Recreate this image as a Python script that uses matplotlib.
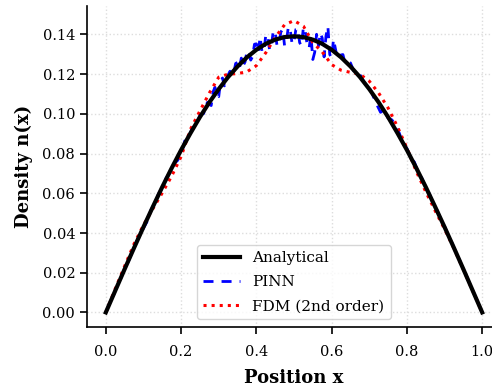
import matplotlib
matplotlib.use('Agg')
from matplotlib import pyplot as plt
import numpy as np

plt.rcParams['font.family'] = 'DejaVu Serif'

x_coarse = np.linspace(0, 1, 41)
analytical = [0.0, 0.0109, 0.0218, 0.0325, 0.0430, 0.0532, 0.0632, 0.0727, 0.0818, 0.0903,
              0.0984, 0.1058, 0.1125, 0.1186, 0.1239, 0.1285, 0.1323, 0.1353, 0.1374, 0.1387,
              0.1391,
              0.1387, 0.1374, 0.1353, 0.1323, 0.1285, 0.1239, 0.1186, 0.1125, 0.1058, 0.0984,
              0.0903, 0.0818, 0.0727, 0.0632, 0.0532, 0.0430, 0.0325, 0.0218, 0.0109, 0.0]

# FDM (2nd order), same grid
fdm = [0.0, 0.0119, 0.0233, 0.0345, 0.0440, 0.0522, 0.0602, 0.0687, 0.0785, 0.0923,
       0.1015, 0.1105, 0.1185, 0.1200, 0.1203, 0.1212, 0.1243, 0.1308, 0.1385, 0.1449,
       0.1470,
       0.1442, 0.1359, 0.1312, 0.1248, 0.1220, 0.1209, 0.1200, 0.1165, 0.1105, 0.1030,
       0.0935, 0.0828, 0.0710, 0.0608, 0.0512, 0.0420, 0.0322, 0.0216, 0.0108, 0.0]

# PINN prediction: steps of 0.01 near the ends, 0.005 in the noisy middle part
x_pinn = np.concatenate([np.linspace(0, 0.25, 26),
                         np.linspace(0.26, 0.64, 77),
                         np.linspace(0.65, 1.0, 36)])
pinn = [0.0, 0.0046, 0.0084, 0.0135, 0.0172, 0.0221, 0.0257, 0.0305, 0.0351, 0.0385,
        0.0424, 0.0459, 0.0516, 0.0549, 0.0597, 0.0628, 0.0676, 0.0703, 0.0748, 0.0764,
        0.0794, 0.0865, 0.0881, 0.0930, 0.0944, 0.0993,
        # 0.26 .. 0.64
        0.1002, 0.1037, 0.1058, 0.1048, 0.1042, 0.1111, 0.1134, 0.1092, 0.1087, 0.1166,
        0.1181, 0.1141, 0.1160, 0.1196, 0.1215, 0.1190, 0.1207, 0.1254, 0.1259, 0.1229,
        0.1281, 0.1243, 0.1262, 0.1315, 0.1318, 0.1271, 0.1289, 0.1351, 0.1353, 0.1309,
        0.1388, 0.1312, 0.1312, 0.1397, 0.1398, 0.1322, 0.1341, 0.1420, 0.1412, 0.1342,
        0.1350, 0.1412, 0.1427, 0.1342, 0.1368, 0.1439, 0.1425, 0.1351, 0.1363, 0.1426,
        0.1430, 0.1359, 0.1343, 0.1437, 0.1415, 0.1347, 0.1330, 0.1397, 0.1274, 0.1310,
        0.1401, 0.1342, 0.1408, 0.1382, 0.1287, 0.1392, 0.1441, 0.1299, 0.1283, 0.1376,
        0.1329, 0.1281, 0.1278, 0.1297, 0.1299, 0.1260, 0.1269,
        # 0.65 .. 1.0
        0.1257, 0.1211, 0.1212, 0.1183, 0.1145, 0.1135, 0.1091, 0.1047, 0.1008, 0.1022,
        0.0978, 0.0970, 0.0945, 0.0902, 0.0848, 0.0826, 0.0776, 0.0757, 0.0704, 0.0675,
        0.0629, 0.0596, 0.0547, 0.0515, 0.0469, 0.0434, 0.0386, 0.0349, 0.0301, 0.0263,
        0.0216, 0.0176, 0.0130, 0.0088, 0.0043, 0.0]

fig = plt.figure(figsize=(4.92, 3.89), dpi=100)
# the right side of the axes runs past the picture edge, like in the reference
ax = fig.add_axes([87/492, 62/389, 414/492, 321/389])

ax.plot(x_coarse, analytical, color='black', linewidth=3, label='Analytical', zorder=4)
ax.plot(x_pinn, pinn, color='blue', linewidth=2, dashes=(3.6, 2.9), label='PINN', zorder=3)
ax.plot(x_coarse, fdm, color='red', linewidth=2.2, linestyle=':', label='FDM (2nd order)', zorder=3)

ax.set_xlabel('Position x', fontsize=13, fontweight='bold', labelpad=7)
ax.set_ylabel('Density n(x)', fontsize=13, fontweight='bold', labelpad=7)

ax.set_xticks([0.0, 0.2, 0.4, 0.6, 0.8, 1.0])
ax.set_yticks([0.00, 0.02, 0.04, 0.06, 0.08, 0.10, 0.12, 0.14])
ax.yaxis.set_major_formatter(matplotlib.ticker.FormatStrFormatter('%.2f'))
ax.tick_params(labelsize=10.5, length=5, width=1.2)
ax.tick_params(axis='x', pad=8)

ax.grid(True, linestyle=':', color='#dddddd', linewidth=1)
ax.spines['top'].set_visible(False)
ax.spines['right'].set_visible(False)
ax.spines['left'].set_linewidth(1.2)
ax.spines['bottom'].set_linewidth(1.2)

ax.legend(loc='lower center', fontsize=11, handlelength=2.4, labelspacing=0.65)

plt.savefig('out.png', dpi=100)
plt.close()
